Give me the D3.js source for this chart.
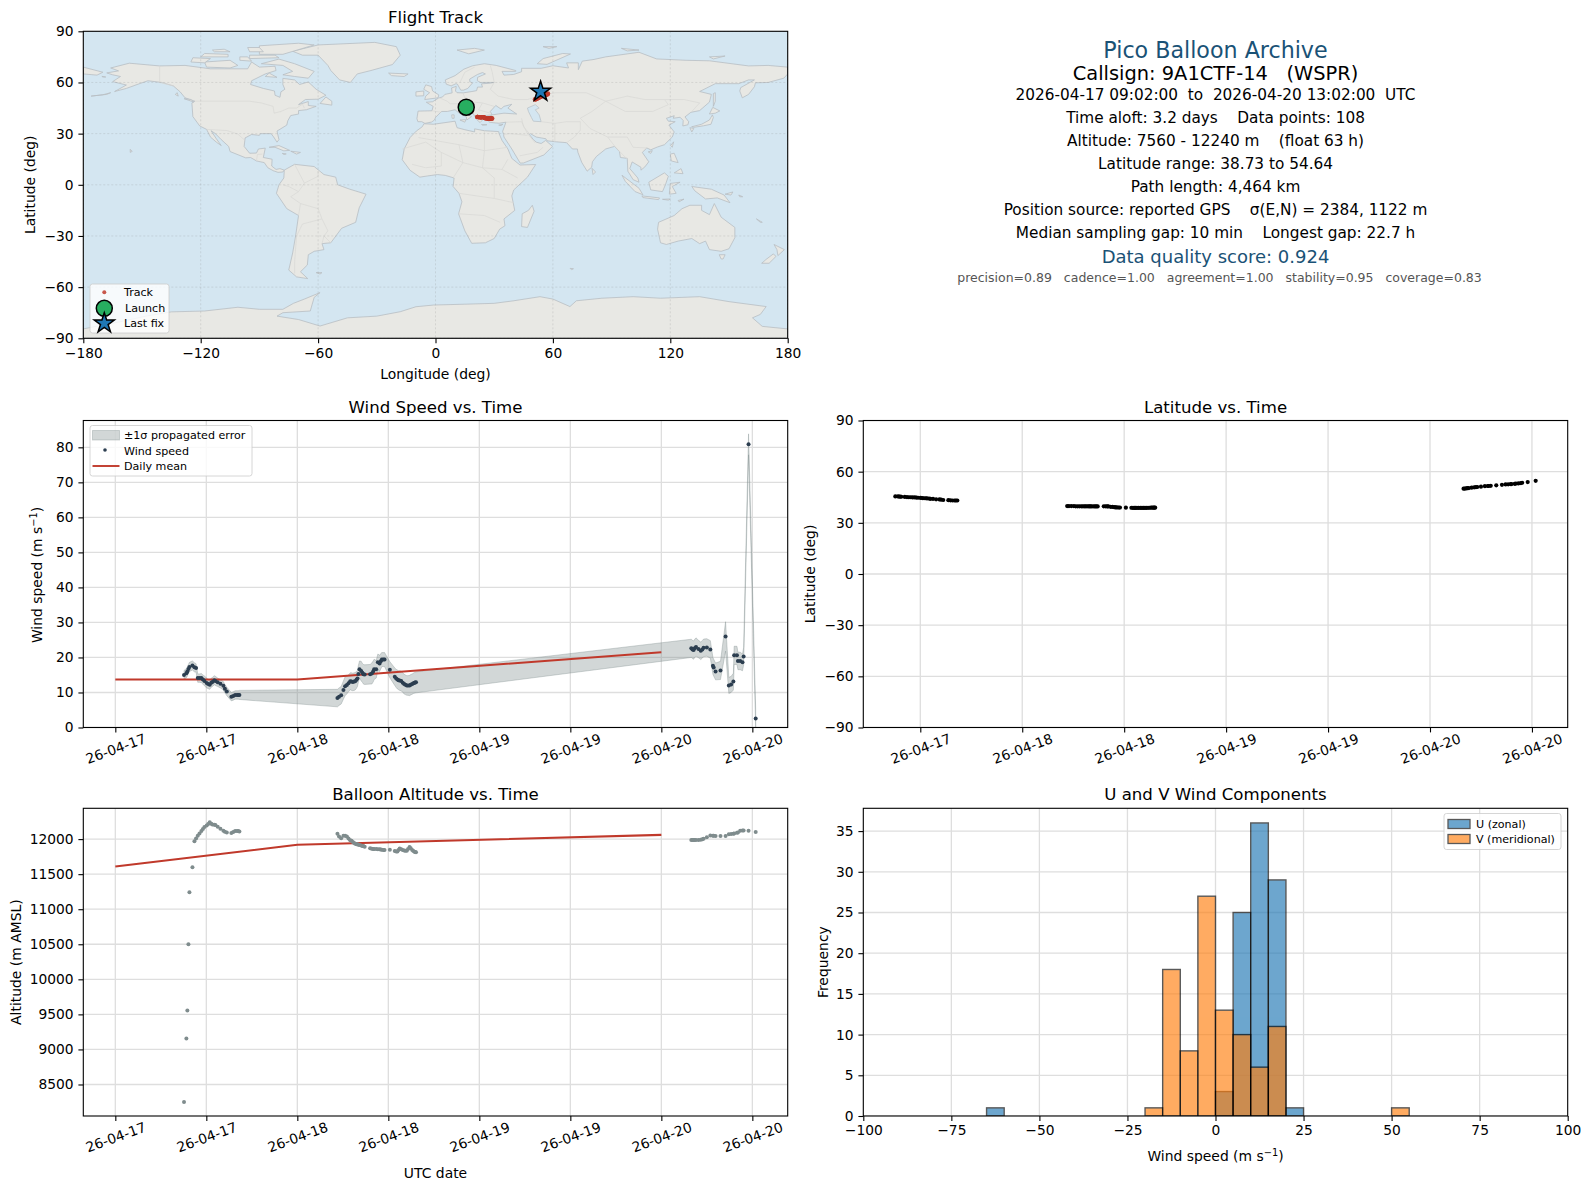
<!DOCTYPE html>
<html>
<head>
<meta charset="utf-8">
<title>Pico Balloon Archive</title>
<script src="https://cdn.jsdelivr.net/npm/d3@7"></script>
<style>
  body { margin: 0; background: white; }
  text { font-family: "DejaVu Sans", sans-serif; fill: black; }
</style>
</head>
<body>
<div id="chart"></div>
<script>
// Hours since 2026-04-17 00:00 UTC for every fix, one row per flight segment
const fixHours = [
  9.06,9.37,9.5,9.64,9.77,10.17,10.43,10.65,10.87,11.1,11.35,11.55,11.75,12.05,12.25,12.45,12.65,12.8,13.05,13.2,13.5,13.86,14.25,14.45,14.7,15.3,15.55,15.8,16.05,16.2,16.36,
  29.29,29.5,29.78,30.08,30.3,30.53,30.75,30.97,31.15,31.32,31.48,31.63,31.8,31.93,32.05,32.2,32.42,32.58,32.72,32.88,33.6,33.82,34.0,34.13,34.4,34.62,34.85,35.0,35.15,35.35,35.5,36.2,36.85,37.04,37.2,37.34,37.5,37.7,37.9,38.09,38.25,38.44,38.6,38.8,38.95,39.15,39.3,39.45,39.54,39.65,
  75.95,76.1,76.26,76.4,76.57,76.9,77.2,77.4,77.57,78.0,78.46,78.8,78.9,79.15,79.8,80.47,80.9,81.2,81.5,81.6,81.97,82.1,82.4,82.7,82.85,83.5,84.44
];
const windSpeed = [
  15.0,15.5,16.0,16.7,17.3,17.7,17.2,17.0,14.1,14.1,14.1,13.7,13.3,12.7,12.4,12.2,12.8,13.0,13.5,13.3,12.9,12.5,11.9,11.1,10.3,8.8,9.0,9.3,9.3,9.3,9.3,
  8.4,8.8,9.2,10.7,11.8,12.1,12.6,13.2,13.1,13.0,13.1,13.2,13.6,14.0,15.3,16.6,16.1,15.6,15.2,15.1,15.2,15.4,16.0,16.6,16.6,18.6,18.3,18.9,19.4,19.4,19.4,16.5,14.5,14.0,13.7,13.5,13.4,13.3,12.8,12.4,12.2,12.0,12.0,12.0,12.2,12.4,12.6,12.8,12.85,12.9,
  22.6,22.3,22.1,22.6,23.0,22.4,21.9,22.3,22.75,22.85,22.3,17.6,17.1,16,16.3,26,12,12.3,13.1,20.6,20.6,19,19,18.6,20.3,80.85,2.6
];
const windError = [
  1.3,1.3,1.3,1.3,1.3,1.3,1.3,1.2,1.2,1.2,1.3,1.3,1.4,1.4,1.3,1.3,1.3,1.3,1.3,1.3,1.2,1.2,1.2,1.2,1.2,1.2,1.2,1.2,1.2,1.2,1.3,
  2.5,2.5,2.5,2.6,2.7,2.5,2.4,2.4,2.5,2.5,2.5,2.5,2.4,2.3,2.4,2.4,2.8,2.7,2.8,2.8,2.8,3,3,2.9,2.5,2.4,2.3,2.2,2,2,2,2.3,2.5,2.6,2.7,2.7,2.8,2.8,2.8,2.8,2.8,2.8,2.8,2.9,2.9,2.9,2.9,3,3,3,
  2.6,2.6,2.6,2.6,2.6,2.5,2.5,2.5,2.5,2.5,2.5,2.4,2.4,2.4,2.6,4.2,2.3,2.3,2.4,2.6,2.6,2.5,2.5,2.4,2.5,3,2.6
];
const altitude = [
  8250,9157,9557,10500,11243,11600,11971,12009,12047,12080,12114,12145,12171,12194,12215,12240,12220,12209,12204,12200,12175,12147,12119,12105,12094,12086,12100,12114,12114,12114,12108,
  12076,12038,12014,12047,12047,12038,12010,11985,11975,11960,11945,11933,11928,11925,11920,11915,11908,11903,11900,11892,11870,11861,11860,11860,11858,11857,11855,11852,11850,11846,11843,11847,11830,11825,11824,11845,11867,11855,11843,11838,11835,11833,11860,11886,11870,11845,11830,11820,11815,11814,
  11986,11986,11986,11986,11986,11988,11990,11997,12004,12028,12052,12049,12047,12043,12043,12043,12071,12074,12078,12080,12090,12095,12119,12122,12123,12119,12100
];
const latitude = [
  45.5,45.5,45.4,45.4,45.3,45.2,45.1,45.0,45.0,44.9,44.9,44.8,44.7,44.6,44.5,44.4,44.4,44.3,44.2,44.1,44.0,43.8,43.7,43.6,43.4,43.3,43.2,43.1,43.1,43.1,43.1,
  39.8,39.8,39.8,39.8,39.7,39.7,39.7,39.7,39.7,39.7,39.7,39.7,39.7,39.7,39.7,39.6,39.6,39.6,39.6,39.6,39.7,39.7,39.6,39.6,39.4,39.3,39.2,39.1,39.1,39.0,39.0,38.9,38.85,38.8,38.8,38.8,38.75,38.75,38.73,38.75,38.8,38.8,38.8,38.85,38.85,38.9,38.9,38.9,38.9,38.9,
  50.0,50.1,50.2,50.3,50.4,50.6,50.8,50.9,51,51.2,51.5,51.6,51.6,51.7,52.0,52.3,52.5,52.6,52.7,52.7,52.9,53,53.1,53.3,53.5,53.9,54.64
];
const longitude = [
  15.7,15.8,15.8,15.9,15.9,16,16.1,16.2,16.2,16.3,16.4,16.5,16.6,16.7,16.8,16.8,16.9,17,17,17.1,17.2,17.4,17.5,17.6,17.7,17.9,18,18.1,18.2,18.3,18.4,
  21.3,21.4,21.5,21.6,21.7,21.8,21.9,22,22.1,22.3,22.4,22.5,22.6,22.8,22.9,23,23.2,23.3,23.4,23.5,24.3,24.5,24.6,24.7,24.9,25,25.2,25.3,25.4,25.6,25.7,26.2,26.7,26.8,26.9,27,27.1,27.2,27.3,27.5,27.6,27.7,27.8,28,28.2,28.3,28.5,28.6,28.8,29,
  50.8,51,51.2,51.5,51.7,52,52.3,52.5,52.8,53,53.3,53.6,53.8,54,54.5,55,55.4,55.8,56.2,56.4,56.8,57,57.2,57.4,57.5,56,53.7
];

// Daily means
const dailyHours = [0, 24, 72];
const dailyWind = [13.7, 13.7, 21.5];
const dailyAltitude = [11610, 11919, 12060];

// Histogram bins (left edges) and counts
const binWidth = 5;
const uBins = [-65, 0, 5, 10, 15, 20];
const uCounts = [1, 3, 25, 36, 29, 1];
const vBins = [-20, -15, -10, -5, 0, 5, 10, 15, 50];
const vCounts = [1, 18, 8, 27, 13, 10, 6, 11, 1];

// Tick values
const mapLonTicks = [-180, -120, -60, 0, 60, 120, 180];
const mapLatTicks = [-90, -60, -30, 0, 30, 60, 90];
const dateTicks = [0, 12, 24, 36, 48, 60, 72, 84];
const latDateTicks = [12, 24, 36, 48, 60, 72, 84];
const windTicks = [0, 10, 20, 30, 40, 50, 60, 70, 80];
const altTicks = [8500, 9000, 9500, 10000, 10500, 11000, 11500, 12000];
const histXTicks = [-100, -75, -50, -25, 0, 25, 50, 75, 100];
const histYTicks = [0, 5, 10, 15, 20, 25, 30, 35];

// Summary text
const infoLines = [
  ["Pico Balloon Archive", 22.2, "#1a5276"],
  ["Callsign: 9A1CTF-14   (WSPR)", 19.4, "#000"],
  ["2026-04-17 09:02:00  to  2026-04-20 13:02:00  UTC", 15.3, "#000"],
  ["Time aloft: 3.2 days    Data points: 108", 15.3, "#000"],
  ["Altitude: 7560 - 12240 m    (float 63 h)", 15.3, "#000"],
  ["Latitude range: 38.73 to 54.64", 15.3, "#000"],
  ["Path length: 4,464 km", 15.3, "#000"],
  ["Position source: reported GPS    \u03c3(E,N) = 2384, 1122 m", 15.3, "#000"],
  ["Median sampling gap: 10 min    Longest gap: 22.7 h", 15.3, "#000"],
  ["Data quality score: 0.924", 18, "#1a5276"],
  ["precision=0.89   cadence=1.00   agreement=1.00   stability=0.95   coverage=0.83", 12.5, "#555"]
];
const infoY = [51.5, 74, 95, 118, 141, 164, 187, 210, 233, 258, 278];

// Coastlines, lon/lat, rough outline of the world
const landPolys = [
  // Eurasia
  [[-9,37],[-9.5,38.8],[-8.9,43.2],[-1.8,43.4],[-1.2,46],[-4.7,48.4],[-1.5,48.7],[1.6,50.9],[3.6,51.5],[4.8,53],[8.5,53.9],[8.2,56.8],[10.6,57.7],[10.2,55],[11,54],[14.2,53.9],[18.6,54.7],[21,55.2],[21.5,57.3],[24,57.3],[23.5,59.2],[28,59.6],[30,60],[23,60],[21.4,61],[21.5,63],[25.5,65],[24,65.8],[21.5,64.7],[17.5,62],[17.5,60.5],[18.9,59.7],[16.5,56.5],[14.3,55.5],[12.9,55.5],[11.2,59],[10.5,59.3],[8,58],[5.5,59],[5,61.5],[10,64],[14.5,67.8],[19,69.8],[25,71],[31,70],[41,67],[41,66.5],[34,66.5],[35,64.3],[40,64.7],[44,66.3],[44,68.3],[54,68.3],[60,69.8],[68,68.5],[67,71.5],[73,71.5],[73,67.5],[75,72.5],[81,73.5],[87,75],[104,77.7],[113,73.8],[128,73],[140,72.7],[160,69.7],[170,70],[180,69],[180,65],[178,62.5],[170,60],[163.5,59.8],[163,57.5],[160,53],[156.8,51],[155.5,55],[156,57],[163,61.5],[160,61.5],[155,59.3],[143,59.3],[135,54.7],[141,53],[140,48.5],[135,43.5],[130.5,42.5],[127.5,39.8],[129.4,37],[129,35.2],[126.4,34.5],[126.6,37.7],[125,39.6],[121.5,39],[122,40.5],[118,39],[119,37.3],[122.5,37],[119.3,35],[122,31],[121,28],[117,23.5],[113.5,22.2],[110,20.5],[108,21.6],[105.7,19],[109,13.5],[107,10.5],[105,8.6],[105,10.3],[100.5,13.4],[99.3,9.5],[103.4,4],[104,1.5],[101,3],[98.3,8],[98,15.5],[94.5,16],[94,19.5],[91.5,22.5],[89,21.7],[87,21],[82.3,16.7],[80.2,13.5],[79.8,10.3],[77.5,8],[74.8,13],[72.8,19],[72.5,21],[70,21],[67,24.7],[61.7,25.2],[57,25.8],[56.4,27],[51.5,28],[48.5,30],[48,29.5],[50,26.5],[51.5,25],[54,24.2],[56.3,26],[59.8,22.5],[55.4,17.5],[45,12.8],[43.3,12.7],[39,21],[35,28],[34.8,29.5],[34.3,31.3],[36,36.7],[32.5,36.1],[30.5,36.3],[27.5,36.7],[26.3,39.3],[29,41],[35,42],[41.5,41.5],[37,45],[39,47.2],[35,46],[33.5,44.4],[30.8,46.5],[28,43],[28.9,41],[26,40.7],[23,40.3],[24,38],[22.8,36.5],[21,38.3],[19.4,41.5],[19,42.5],[13.7,45.6],[12.3,45],[16,41.9],[18.4,40],[16,38],[15.7,40],[12.3,41.8],[10,44],[6,43],[3.1,43],[0,39.5],[-0.5,38],[-2,36.8],[-5.4,36],[-7,37]],
  // Chukotka, past the date line
  [[-180,69],[-175,67.5],[-170,66],[-173,64.3],[-180,65]],
  // Africa
  [[-5.9,35.8],[-1,35.5],[10,37.3],[11,33.5],[15,32.3],[20,31],[20,32.8],[25,31.7],[32.3,31.2],[32.5,30],[34,26],[37,21],[39,15.5],[43.2,11.6],[51.2,11.9],[47,4.5],[40,-3],[39,-6.5],[40.5,-15],[35,-20],[35.5,-24],[32.8,-26],[30,-31.5],[25.5,-34],[18.5,-34.3],[15,-27],[11.8,-17],[13.5,-10],[12,-5],[9,-1],[9.5,4],[5,5.5],[1,6],[-4,5.2],[-8,4.5],[-13,8.5],[-17,14.7],[-16,21],[-13,27.7],[-9.8,31.5],[-6.8,34]],
  // North America
  [[-168,65.6],[-162,66.8],[-166,68.5],[-156.5,71.3],[-141,69.7],[-128,70],[-115,68],[-108,68],[-96,68],[-94,72],[-90,69],[-82,69.5],[-81.5,67],[-87,65],[-94,61],[-94.5,58.8],[-88,56.5],[-82.3,55],[-82,52.5],[-79.5,51.3],[-79,54.5],[-77,56],[-78,58.8],[-78,62.4],[-72,61.5],[-69.5,58.8],[-65,60.3],[-61,56],[-56,52.5],[-60,50.2],[-66.5,50],[-70,47],[-65,48.8],[-65,46.5],[-61,46],[-66,44],[-70,43.5],[-70,41.5],[-74,40.6],[-75.5,37.5],[-76,35],[-81,31.5],[-80,26.5],[-81,25],[-82.7,28],[-84,30],[-89.5,30],[-90,29],[-94,29.5],[-97.3,27.5],[-97.8,22.5],[-95,18.5],[-91.5,18.6],[-90.5,21],[-87,21.5],[-88,16],[-83.5,15],[-83.7,11],[-81.5,9],[-79.5,9.5],[-77.3,8.6],[-78,7.5],[-80.5,7.3],[-83,8.3],[-85.7,10],[-87.5,13],[-91.5,14],[-94.5,16],[-97,15.8],[-105,19.5],[-105.7,22.5],[-109.5,26.5],[-112.5,30],[-114.7,31.7],[-112,27],[-109.5,23],[-112,25],[-115,28],[-117,32.5],[-120.5,34.5],[-124,40],[-124.5,48],[-123,49],[-128,51],[-130.5,54.5],[-134,58],[-140,60],[-147,61],[-152,59],[-158,56.5],[-164,54.7],[-158,58.5],[-165,60.5],[-161,63.5],[-165,64.5]],
  // South America
  [[-77.3,8.6],[-72,12],[-62,10.7],[-57,6],[-51,4.5],[-50,0],[-44,-2.5],[-35.5,-5.5],[-39,-13.5],[-40.8,-22],[-48,-25.5],[-53.5,-34],[-58,-34.5],[-57,-38],[-62,-39],[-65,-41],[-65.5,-47],[-69,-51],[-65.3,-55],[-71,-54],[-75,-50],[-73,-40],[-71.5,-30],[-70,-18],[-76,-14],[-81.3,-5],[-80,0],[-77.5,4]],
  // Greenland
  [[-73,78.3],[-60,82],[-31,83.5],[-20,81],[-18,76],[-22,70.5],[-33,67],[-40,65],[-43.5,60],[-49,61.5],[-53.5,67],[-55,70],[-60,76],[-68,76]],
  // Canadian Arctic
  [[-80,73.7],[-72,71],[-62,66.5],[-65,62.5],[-72,63.5],[-78,64.5],[-73,66.5],[-78,70],[-89,71]],
  [[-90,76.5],[-78,76.5],[-62,82],[-70,83],[-90,81.5]],
  [[-117,69],[-105,68.5],[-101,70],[-105,73],[-118,72]],
  [[-125,72],[-118,71.5],[-115,74],[-124,74.5]],
  [[-95,74],[-80,74.5],[-82,76],[-95,76]],
  [[-120,75],[-106,75],[-106,76.5],[-118,77]],
  [[-87,63.5],[-81,63],[-85,65.5]],
  [[-100,73],[-94,72.5],[-96,75],[-100,75]],
  [[-113,78],[-105,78],[-108,79.5],[-114,79]],
  [[-95,78],[-88,78],[-90,80.5],[-96,80.5]],
  [[-59,47.7],[-53,46.7],[-53,49],[-56,51.5]],
  [[-133,53],[-131.5,52],[-132,54]],
  [[-128.5,50.5],[-123.5,48.5],[-125,50]],
  // Aleutians
  [[-176,52],[-170,52.8],[-166,54],[-168,53]],
  [[-170.5,63.6],[-168.5,63.2],[-170,63.2]],
  // Europe islands
  [[-5.5,50],[1.3,51],[1.7,52.7],[-1.5,55],[-2,57.6],[-5,58.6],[-6,56],[-3,54],[-5,52]],
  [[-10,52],[-6,52.2],[-6,55],[-10,54.5]],
  [[-24,65.5],[-14,65],[-16,63.5],[-22.5,64]],
  [[11,79],[20,80],[25,79],[17,76.8]],
  [[52,71],[57,70.6],[69,76.7],[65,77],[55,74]],
  [[9.5,41],[9.5,39],[8.5,39],[8.3,41]],
  [[12.5,38],[15.5,38.2],[15,36.7]],
  [[23.5,35.4],[26.3,35.2],[24,34.9]],
  [[32.3,35],[34.5,35.5],[33.5,34.7]],
  [[140,75],[148,75.5],[142,73.8]],
  [[95,80],[104,79],[98,78.5]],
  [[55,81],[62,81],[58,80]],
  // Caribbean and Pacific
  [[-85,22],[-80,23],[-74.5,20.2],[-77.5,19.9],[-82,22]],
  [[-74,19.7],[-69,19],[-71,18]],
  [[-78.3,18.4],[-76.3,18.1],[-77.5,17.8]],
  [[-156,20.8],[-155,19.6],[-156,19]],
  [[-61,-51.5],[-58,-51.5],[-59,-52.3]],
  // Japan, Asia islands
  [[130.9,34],[136,35.5],[140,38],[141.5,41],[142,39.5],[140.8,35.5],[137,34.6],[132,33.7]],
  [[140,41.5],[141.7,45.4],[145.3,43.3],[143,42]],
  [[130,33.5],[132,33],[131,31]],
  [[142,46],[143,49],[143,54],[142,53.5],[142,48]],
  [[120.2,23],[121.7,25.2],[121,22]],
  [[108.7,19.3],[110.8,20],[110,18.4]],
  [[80,9.7],[81.8,7.5],[80.5,6]],
  [[120,18],[122,18.5],[124,13],[120.5,14]],
  [[122,7],[125.5,9.5],[126.5,6.5]],
  [[109,1.5],[117,7],[119,5],[117.5,0],[116,-4],[110,-3]],
  [[95.3,5.6],[104,-2],[106,-5.8],[102,-4],[97,2]],
  [[105.5,-6.5],[114.5,-7.7],[114,-8.7],[106,-7.5]],
  [[119.5,-5.5],[120,0.8],[125,1.5],[121,-1],[123,-5]],
  [[131,-1],[141,-2.6],[147.5,-6],[150.5,-10.5],[144,-7.7],[138,-8.3],[132.5,-3.5]],
  [[148,-5.5],[152,-4.2],[151,-6]],
  [[124,-9.2],[127,-8.4],[124.5,-10]],
  [[116,-8.5],[120,-8.3],[119,-9]],
  [[155,-6],[157,-7],[155.5,-7]],
  // Australia and NZ
  [[114,-22],[122,-18],[126,-14],[130,-12],[136,-12],[136,-15],[140,-17.5],[142.5,-11],[146,-19],[153,-25],[153,-31],[150,-37.5],[146,-39],[140,-38],[138,-33],[135,-34.5],[131,-31.5],[124,-33],[118,-35],[115,-34],[113.5,-26]],
  [[145,-41],[148,-41],[147,-43.5],[146,-43.5]],
  [[173,-35],[178.3,-38],[175,-41.5],[174.5,-38]],
  [[172.7,-40.5],[174,-42],[170.5,-46],[166.7,-46],[169,-43.7]],
  [[164,-20],[167,-22],[166,-22]],
  [[49.5,-12],[50.4,-15.5],[47,-25],[44,-24.5],[44.3,-17],[47.5,-15]],
  [[68.8,-49],[70.5,-49.2],[69.5,-49.8]],
  // Antarctica
  [[-180,-84.5],[-160,-80],[-148,-77],[-135,-74.5],[-118,-74],[-101,-71.8],[-90,-73],[-78,-73],[-72.6,-69.5],[-67,-67],[-59,-63.2],[-62,-66],[-63,-70],[-64,-74],[-78,-75],[-81,-77],[-70,-79],[-59,-82.8],[-45,-78],[-30,-77],[-18,-74.4],[-10,-71.5],[-1,-70.5],[15,-70],[30,-69.5],[40,-68],[53.4,-65.6],[60,-67],[68.7,-71.4],[72,-68],[85,-66.5],[101,-65.6],[115,-66.5],[135,-65.6],[150,-68.5],[169,-71.4],[166,-76],[162,-78],[167,-83],[180,-84.5],[180,-90],[-180,-90]]
];
const inlandSeas = [
  [[47,45],[51,47],[53,45],[51,44],[53,41],[54,37],[50,37.3],[49,39.5],[47.5,43]]
];
const borderLines = [
  [[-141,69.7],[-141,60],[-134,58]],
  [[-123,49],[-95,49],[-89,48],[-83,46],[-82.5,42],[-79,43],[-75,45],[-71,45],[-68,47.3],[-67,45]],
  [[-117,32.5],[-106.5,31.8],[-101,29.7],[-97.3,26]],
  [[-91.5,14],[-91,17.8],[-88.5,18]],
  [[-72,12],[-67,1],[-70,-4],[-74,-7],[-69,-11],[-70,-18]],
  [[-78,0],[-75,-1],[-70,-4]],
  [[-60,8],[-60,5],[-67,1]],
  [[-69,-11],[-60,-14],[-58,-20],[-68,-23],[-71,-30],[-72,-45],[-72,-52]],
  [[-58,-20],[-55,-27],[-57,-30],[-53.5,-34]],
  [[-58,-34.5],[-57,-30]],
  [[-8.7,27.7],[12,23.5],[25,20],[37,22]],
  [[25,31.7],[25,20],[24,10],[30,4],[30,-8],[40,-10.5]],
  [[-17,21],[-5,25],[3,19],[14,13],[24,10],[34,9],[42,4]],
  [[9,4],[14,13],[12,23.5]],
  [[-12,12],[-5,10],[3,11],[3,19]],
  [[12,-5],[30,-8]],
  [[12,-17],[25,-18],[33,-22]],
  [[34,9],[37,15]],
  [[30,60],[28,56],[32,52],[40,50],[47,50],[50,51],[61,54],[77,54],[87,49],[98,52],[107,50],[117,50],[127,50],[135,48],[131,43]],
  [[87,49],[80,43],[74,39],[79,33],[88,28],[98,28],[101,22],[108,21.6]],
  [[87,49],[97,43],[111,43],[119,47],[117,50]],
  [[44,39],[45,34],[48,30]],
  [[54,37],[61,36],[67,37],[74,37]],
  [[61,36],[61,25]],
  [[67,24.7],[71,28],[74,32],[74,37]],
  [[88,28],[92,22],[98,15]],
  [[2,51],[6,49],[7.5,47.5],[13,47.5],[19,48.5],[24,48],[30,46]],
  [[14,53.9],[15,51],[19,49.5]],
  [[-1.8,43.4],[3,42.5]],
  [[24,48],[22,44],[28,42]],
  [[36,36.7],[44,37],[47,30],[51,24.5]],
  [[34.8,29.5],[38,30],[47,29]],
  [[43,17],[52,19],[55,22]],
  [[30,60],[29,66],[28,70]],
  [[12.5,60],[15,66],[20,69]]
];

const width = 1590, height = 1189;
const colX = [83.3, 863.3], panelW = 704.4;
const rowY = [[31.3, 338.3], [420.5, 727.5], [808.3, 1116]];

const svg = d3.select("#chart").append("svg")
  .attr("width", width).attr("height", height)
  .style("display", "block").style("background", "white");

const toDate = h => new Date(Date.UTC(2026, 3, 17) + h * 3600000);
const dateFormat = d3.utcFormat("%y-%m-%d");

// 5% margin like the usual autoscale
function padded(values) {
  const [a, b] = d3.extent(values);
  const pad = (b - a) * 0.05;
  return [a - pad, b + pad];
}

let clipCount = 0;
function makePanel(col, row, title) {
  const x0 = colX[col], y0 = rowY[row][0], y1 = rowY[row][1];
  const g = svg.append("g");
  const id = "clip" + (clipCount++);
  svg.append("clipPath").attr("id", id).append("rect")
    .attr("x", x0).attr("y", y0).attr("width", panelW).attr("height", y1 - y0);
  const plot = g.append("g").attr("clip-path", `url(#${id})`);
  g.append("text").attr("x", x0 + panelW / 2).attr("y", y0 - 8)
    .attr("text-anchor", "middle").style("font-size", "16.6px").text(title);
  return { g, plot, x0, y0, y1, x1: x0 + panelW };
}

function drawGrid(p, xs, xTicks, ys, yTicks, stroke, dash, w) {
  const grid = p.plot.append("g");
  xTicks.forEach(t => grid.append("line")
    .attr("x1", xs(t)).attr("x2", xs(t)).attr("y1", p.y0).attr("y2", p.y1)
    .attr("stroke", stroke).attr("stroke-width", w).attr("stroke-dasharray", dash));
  yTicks.forEach(t => grid.append("line")
    .attr("x1", p.x0).attr("x2", p.x1).attr("y1", ys(t)).attr("y2", ys(t))
    .attr("stroke", stroke).attr("stroke-width", w).attr("stroke-dasharray", dash));
}

function drawAxes(p, xAxis, yAxis, rotate) {
  const gx = p.g.append("g").attr("transform", `translate(0,${p.y1})`)
    .call(xAxis.tickSize(4.9).tickPadding(4.8));
  const gy = p.g.append("g").attr("transform", `translate(${p.x0},0)`)
    .call(yAxis.tickSize(4.9).tickPadding(4.8));
  [gx, gy].forEach(a => {
    a.select(".domain").remove();
    a.selectAll("line").attr("stroke", "black").attr("stroke-width", 1.1);
    a.selectAll("text").style("font-size", "13.8px").style("font-family", '"DejaVu Sans"');
  });
  if (rotate) {
    gx.selectAll("text")
      .attr("text-anchor", "middle")
      .attr("dy", "0")
      .attr("y", 26)
      .attr("transform", "rotate(-20 0 21)");
  }
  p.g.append("rect").attr("x", p.x0).attr("y", p.y0)
    .attr("width", panelW).attr("height", p.y1 - p.y0)
    .attr("fill", "none").attr("stroke", "black").attr("stroke-width", 1.1);
}

function yLabel(x, yc, txt, sup) {
  const t = svg.append("text").attr("text-anchor", "middle").style("font-size", "13.9px")
    .attr("transform", `translate(${x},${yc}) rotate(-90)`).text(txt);
  if (sup) {
    t.append("tspan").attr("dy", -5).style("font-size", "9.8px").text("\u22121");
    t.append("tspan").attr("dy", 5).text(")");
  }
}
function xLabel(xc, y, txt, sup) {
  const t = svg.append("text").attr("text-anchor", "middle").style("font-size", "13.9px")
    .attr("x", xc).attr("y", y).text(txt);
  if (sup) {
    t.append("tspan").attr("dy", -5).style("font-size", "9.8px").text("\u22121");
    t.append("tspan").attr("dy", 5).text(")");
  }
}

// ---------- Flight track ----------
const mapP = makePanel(0, 0, "Flight Track");
const mapX = d3.scaleLinear().domain([-180, 180]).range([mapP.x0, mapP.x1]);
const mapY = d3.scaleLinear().domain([-90, 90]).range([mapP.y1, mapP.y0]);
const geoLine = d3.line().x(d => mapX(d[0])).y(d => mapY(d[1]));

mapP.plot.append("rect").attr("x", mapP.x0).attr("y", mapP.y0)
  .attr("width", panelW).attr("height", mapP.y1 - mapP.y0).attr("fill", "#d4e6f1");
mapP.plot.append("g").selectAll("path").data(landPolys).join("path")
  .attr("d", d => geoLine(d) + "Z")
  .attr("fill", "#e8e8e4").attr("stroke", "#b7bec3").attr("stroke-width", 0.8)
  .attr("stroke-linejoin", "round");
mapP.plot.append("g").selectAll("path").data(inlandSeas).join("path")
  .attr("d", d => geoLine(d) + "Z")
  .attr("fill", "#d4e6f1").attr("stroke", "#b7bec3").attr("stroke-width", 0.7);
mapP.plot.append("g").selectAll("path").data(borderLines).join("path")
  .attr("d", geoLine).attr("fill", "none")
  .attr("stroke", "#d9d9d6").attr("stroke-width", 0.7);
drawGrid(mapP, mapX, mapLonTicks, mapY, mapLatTicks, "rgba(130,130,130,0.25)", "2,2", 0.8);

mapP.plot.append("g").selectAll("circle").data(fixHours).join("circle")
  .attr("cx", (d, i) => mapX(longitude[i])).attr("cy", (d, i) => mapY(latitude[i]))
  .attr("r", 2.2).attr("fill", "#c0392b").attr("fill-opacity", 0.85);

const starPath = d3.symbol().type(d3.symbolStar).size(124)();
mapP.plot.append("circle")
  .attr("cx", mapX(longitude[0])).attr("cy", mapY(latitude[0]))
  .attr("r", 8).attr("fill", "#27ae60").attr("stroke", "black").attr("stroke-width", 1.5);
mapP.plot.append("path").attr("d", starPath)
  .attr("transform", `translate(${mapX(longitude[107])},${mapY(latitude[107])})`)
  .attr("fill", "#1f77b4").attr("stroke", "black").attr("stroke-width", 1.5);

drawAxes(mapP,
  d3.axisBottom(mapX).tickValues(mapLonTicks),
  d3.axisLeft(mapY).tickValues(mapLatTicks));
xLabel(mapP.x0 + panelW / 2, 379, "Longitude (deg)");
yLabel(35, (mapP.y0 + mapP.y1) / 2, "Latitude (deg)");

// map legend
const mapLegend = svg.append("g");
mapLegend.append("rect").attr("x", 90).attr("y", 284).attr("width", 79).attr("height", 49)
  .attr("rx", 2.5).attr("fill", "white").attr("fill-opacity", 0.8)
  .attr("stroke", "#ccc").attr("stroke-width", 0.8);
mapLegend.append("circle").attr("cx", 104.3).attr("cy", 292.3).attr("r", 2)
  .attr("fill", "#c0392b").attr("fill-opacity", 0.85);
mapLegend.append("circle").attr("cx", 104.3).attr("cy", 308.3).attr("r", 8)
  .attr("fill", "#27ae60").attr("stroke", "black").attr("stroke-width", 1.5);
mapLegend.append("path").attr("d", starPath).attr("transform", "translate(104.3,323.3)")
  .attr("fill", "#1f77b4").attr("stroke", "black").attr("stroke-width", 1.5);
[["Track", 124, 296], ["Launch", 125, 312], ["Last fix", 124, 327]].forEach(r => {
  mapLegend.append("text").attr("x", r[1]).attr("y", r[2]).style("font-size", "11.1px").text(r[0]);
});

// ---------- Summary text ----------
infoLines.forEach((l, i) => {
  // the small score line sits a little right of the others in the original
  const dx = i === 10 ? 4 : 0;
  svg.append("text").attr("x", colX[1] + panelW / 2 + dx).attr("y", infoY[i])
    .attr("text-anchor", "middle").attr("dominant-baseline", "middle")
    .style("font-size", l[1] + "px").style("fill", l[2]).style("white-space", "pre")
    .attr("xml:space", "preserve").text(l[0]);
});

// ---------- Wind speed vs time ----------
const gridColor = "#dedede";
const windP = makePanel(0, 1, "Wind Speed vs. Time");
const timeX = d3.scaleUtc()
  .domain(padded(fixHours.concat(dailyHours)).map(toDate)).range([windP.x0, windP.x1]);
const windY = d3.scaleLinear().domain([0, 87.66]).range([windP.y1, windP.y0]);
const dateTickValues = dateTicks.map(toDate);
drawGrid(windP, timeX, dateTickValues, windY, windTicks, gridColor, null, 1.3);

const windBand = d3.area()
  .x(d => timeX(toDate(fixHours[d])))
  .y0(d => windY(windSpeed[d] - windError[d]))
  .y1(d => windY(windSpeed[d] + windError[d]));
windP.plot.append("path").attr("d", windBand(d3.range(fixHours.length)))
  .attr("fill", "#7f8c8d").attr("fill-opacity", 0.35)
  .attr("stroke", "#7f8c8d").attr("stroke-opacity", 0.35).attr("stroke-width", 1);
windP.plot.append("path")
  .attr("d", d3.line().x(d => timeX(toDate(dailyHours[d]))).y(d => windY(dailyWind[d]))(d3.range(dailyHours.length)))
  .attr("fill", "none").attr("stroke", "#c0392b").attr("stroke-width", 1.9);
windP.plot.append("g").selectAll("circle").data(fixHours).join("circle")
  .attr("cx", d => timeX(toDate(d))).attr("cy", (d, i) => windY(windSpeed[i]))
  .attr("r", 2).attr("fill", "#2c3e50");

drawAxes(windP,
  d3.axisBottom(timeX).tickValues(dateTickValues).tickFormat(dateFormat),
  d3.axisLeft(windY).tickValues(windTicks), true);
yLabel(42, (windP.y0 + windP.y1) / 2 + 1, "Wind speed (m s", true);

const windLegend = svg.append("g");
windLegend.append("rect").attr("x", 90).attr("y", 425.5).attr("width", 162).attr("height", 50.5)
  .attr("rx", 2.5).attr("fill", "white").attr("fill-opacity", 0.8)
  .attr("stroke", "#ccc").attr("stroke-width", 0.8);
windLegend.append("rect").attr("x", 92.5).attr("y", 430.5).attr("width", 27).attr("height", 9.5)
  .attr("fill", "#7f8c8d").attr("fill-opacity", 0.35).attr("stroke", "#7f8c8d").attr("stroke-opacity", 0.35);
windLegend.append("circle").attr("cx", 105).attr("cy", 450).attr("r", 1.8).attr("fill", "#2c3e50");
windLegend.append("line").attr("x1", 92.5).attr("x2", 119.5).attr("y1", 466).attr("y2", 466)
  .attr("stroke", "#c0392b").attr("stroke-width", 1.9);
[["\u00b11\u03c3 propagated error", 439], ["Wind speed", 454.5], ["Daily mean", 470]].forEach(r => {
  windLegend.append("text").attr("x", 124).attr("y", r[1]).style("font-size", "11.1px").text(r[0]);
});

// ---------- Latitude vs time ----------
const latP = makePanel(1, 1, "Latitude vs. Time");
const latTimeX = d3.scaleUtc().domain(padded(fixHours).map(toDate)).range([latP.x0, latP.x1]);
const latY = d3.scaleLinear().domain([-90, 90]).range([latP.y1, latP.y0]);
const latTickValues = latDateTicks.map(toDate);
drawGrid(latP, latTimeX, latTickValues, latY, mapLatTicks, gridColor, null, 1.3);
latP.plot.append("g").selectAll("circle").data(fixHours).join("circle")
  .attr("cx", d => latTimeX(toDate(d))).attr("cy", (d, i) => latY(latitude[i]))
  .attr("r", 2.1).attr("fill", "black");
drawAxes(latP,
  d3.axisBottom(latTimeX).tickValues(latTickValues).tickFormat(dateFormat),
  d3.axisLeft(latY).tickValues(mapLatTicks), true);
yLabel(815, (latP.y0 + latP.y1) / 2, "Latitude (deg)");

// ---------- Altitude vs time ----------
const altP = makePanel(0, 2, "Balloon Altitude vs. Time");
const altY = d3.scaleLinear().domain(padded(altitude)).range([altP.y1, altP.y0]);
const altTimeX = timeX.copy();
drawGrid(altP, altTimeX, dateTickValues, altY, altTicks, gridColor, null, 1.3);
altP.plot.append("path")
  .attr("d", d3.line().x(d => altTimeX(toDate(dailyHours[d]))).y(d => altY(dailyAltitude[d]))(d3.range(dailyHours.length)))
  .attr("fill", "none").attr("stroke", "#c0392b").attr("stroke-width", 2.1);
altP.plot.append("g").selectAll("circle").data(fixHours).join("circle")
  .attr("cx", d => altTimeX(toDate(d))).attr("cy", (d, i) => altY(altitude[i]))
  .attr("r", 2).attr("fill", "#7f8c8d");
drawAxes(altP,
  d3.axisBottom(altTimeX).tickValues(dateTickValues).tickFormat(dateFormat),
  d3.axisLeft(altY).tickValues(altTicks).tickFormat(d3.format("d")), true);
xLabel(altP.x0 + panelW / 2, 1178, "UTC date");
yLabel(21, (altP.y0 + altP.y1) / 2, "Altitude (m AMSL)");

// ---------- U / V histogram ----------
const histP = makePanel(1, 2, "U and V Wind Components");
const histX = d3.scaleLinear().domain([-100, 100]).range([histP.x0, histP.x1]);
const histY = d3.scaleLinear().domain([0, 37.8]).range([histP.y1, histP.y0]);
drawGrid(histP, histX, histXTicks, histY, histYTicks, gridColor, null, 1.3);

function drawBars(bins, counts, color) {
  histP.plot.append("g").selectAll("rect").data(bins).join("rect")
    .attr("x", d => histX(d))
    .attr("y", (d, i) => histY(counts[i]))
    .attr("width", d => histX(d + binWidth) - histX(d))
    .attr("height", (d, i) => histY(0) - histY(counts[i]))
    .attr("fill", color).attr("stroke", "black").attr("stroke-width", 1.4)
    .attr("opacity", 0.65);
}
drawBars(uBins, uCounts, "#1f77b4");
drawBars(vBins, vCounts, "#ff7f0e");

drawAxes(histP,
  d3.axisBottom(histX).tickValues(histXTicks),
  d3.axisLeft(histY).tickValues(histYTicks));
xLabel(histP.x0 + panelW / 2, 1161, "Wind speed (m s", true);
yLabel(828, (histP.y0 + histP.y1) / 2, "Frequency");

const histLegend = svg.append("g");
histLegend.append("rect").attr("x", 1444).attr("y", 813.5).attr("width", 117).attr("height", 36)
  .attr("rx", 2.5).attr("fill", "white").attr("fill-opacity", 0.8)
  .attr("stroke", "#ccc").attr("stroke-width", 0.8);
[["U (zonal)", "#1f77b4", 820], ["V (meridional)", "#ff7f0e", 835]].forEach(r => {
  histLegend.append("rect").attr("x", 1448).attr("y", r[2] - 0.5).attr("width", 22).attr("height", 9)
    .attr("fill", r[1]).attr("stroke", "black").attr("stroke-width", 1.3).attr("opacity", 0.65);
  histLegend.append("text").attr("x", 1476).attr("y", r[2] + 8).style("font-size", "11.1px").text(r[0]);
});
</script>
</body>
</html>
